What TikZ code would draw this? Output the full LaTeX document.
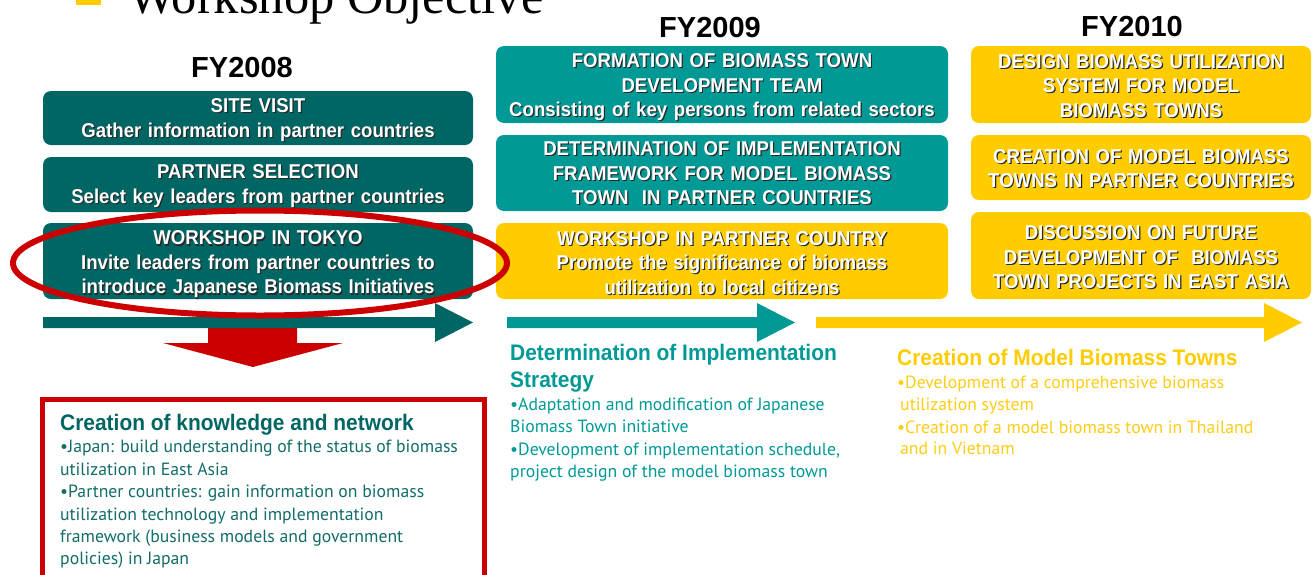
\documentclass[tikz,border=0pt]{standalone}
\usepackage{fontspec}
\setmainfont{Liberation Serif}
\newfontfamily\cb[FakeStretch=0.93]{Liberation Sans}
\newfontfamily\fyfont{Liberation Sans}
\newfontfamily\bodyfont{PT Sans}
\definecolor{dteal}{RGB}{0,102,99}
\definecolor{mteal}{RGB}{0,153,150}
\definecolor{yel}{RGB}{255,204,0}
\definecolor{lyel}{RGB}{255,204,20}
\definecolor{rred}{RGB}{204,0,0}
\definecolor{shad}{RGB}{40,40,40}
\definecolor{rbtext}{RGB}{18,108,104}
\newcommand\sh[1]{\leavevmode\rlap{\kern1.2pt\raisebox{-1.2pt}{\textcolor{shad}{#1}}}#1}
\begin{document}
\begin{tikzpicture}[x=1pt,y=-1pt,
  boxn/.style={rounded corners=8pt, inner sep=0pt},
  boxt/.style={inner sep=0pt, align=center, text=white,
    font=\cb\bfseries\fontsize{20}{24.5}\selectfont},
  fylab/.style={anchor=base, inner sep=0pt, font=\fyfont\bfseries\fontsize{29}{29}\selectfont},
  headtxt/.style={anchor=base west, inner sep=0pt, font=\cb\bfseries\fontsize{22.5}{22.5}\selectfont},
  bodytxt/.style={anchor=base west, inner sep=0pt, font=\bodyfont\fontsize{17.7}{17.7}\selectfont}]
\useasboundingbox (0,0) rectangle (1312,574);
% title
\fill[yel] (76,-20) rectangle (101,5);
\node[anchor=base west, inner sep=0pt, font=\fontsize{50.5}{50.5}\selectfont] (title) at (128,13) {Workshop Objective};
% year labels
\node[fylab] (fy8) at (242,77) {FY2008};
\node[fylab] (fy9) at (710,37) {FY2009};
\node[fylab] (fy10) at (1132,36) {FY2010};
% FY2008 boxes
\node[boxn, fill=dteal, minimum width=430pt, minimum height=54pt] (a1) at (258,118) {};
\node[boxt, text width=430pt] (a1t) at ([yshift=-2.5pt]a1.center)
  {\sh{SITE VISIT}\\\sh{Gather information in partner countries}};
\node[boxn, fill=dteal, minimum width=430pt, minimum height=55pt] (a2) at (258,184.5) {};
\node[boxt, text width=430pt] (a2t) at ([yshift=-2pt]a2.center)
  {\sh{PARTNER SELECTION}\\\sh{Select key leaders from partner countries}};
\node[boxn, fill=dteal, minimum width=430pt, minimum height=76pt] (a3) at (258,261) {};
\node[boxt, text width=430pt] (a3t) at ([yshift=-4pt]a3.center)
  {\sh{WORKSHOP IN TOKYO}\\\sh{Invite leaders from partner countries to}\\\sh{introduce Japanese Biomass Initiatives}};
% FY2009 boxes
\node[boxn, fill=mteal, minimum width=452pt, minimum height=77pt] (b1) at (722,84.5) {};
\node[boxt, text width=452pt] (b1t) at ([yshift=-3.5pt]b1.center)
  {\sh{FORMATION OF BIOMASS TOWN}\\\sh{DEVELOPMENT TEAM}\\\sh{Consisting of key persons from related sectors}};
\node[boxn, fill=mteal, minimum width=452pt, minimum height=76pt] (b2) at (722,173) {};
\node[boxt, text width=452pt] (b2t) at ([yshift=-1pt]b2.center)
  {\sh{DETERMINATION OF IMPLEMENTATION}\\\sh{FRAMEWORK FOR MODEL BIOMASS}\\\sh{TOWN\ \ IN PARTNER COUNTRIES}};
\node[boxn, fill=yel, minimum width=452pt, minimum height=76pt] (b3) at (722,261) {};
\node[boxt, text width=452pt] (b3t) at ([yshift=-2.5pt]b3.center)
  {\sh{WORKSHOP IN PARTNER COUNTRY}\\\sh{Promote the significance of biomass}\\\sh{utilization to local citizens}};
% FY2010 boxes
\node[boxn, fill=yel, minimum width=340pt, minimum height=77pt] (c1) at (1141,84.5) {};
\node[boxt, text width=340pt] (c1t) at ([yshift=-2pt]c1.center)
  {\sh{DESIGN BIOMASS UTILIZATION}\\\sh{SYSTEM FOR MODEL}\\\sh{BIOMASS TOWNS}};
\node[boxn, fill=yel, minimum width=340pt, minimum height=65pt] (c2) at (1141,167.5) {};
\node[boxt, text width=340pt] (c2t) at ([yshift=-1.5pt]c2.center)
  {\sh{CREATION OF MODEL BIOMASS}\\\sh{TOWNS IN PARTNER COUNTRIES}};
\node[boxn, fill=yel, minimum width=340pt, minimum height=87pt] (c3) at (1141,255.5) {};
\node[boxt, text width=340pt] (c3t) at ([yshift=-2.5pt]c3.center)
  {\sh{DISCUSSION ON FUTURE}\\\sh{DEVELOPMENT OF\ \ BIOMASS}\\\sh{TOWN PROJECTS IN EAST ASIA}};
% red down arrow
\fill[rred] (208,326) -- (297,326) -- (297,343) -- (343,343) -- (253,367) -- (163,343) -- (208,343) -- cycle;
% timeline arrows
\fill[dteal] (43,317) -- (435,317) -- (435,303) -- (473,322.5) -- (435,342) -- (435,328) -- (43,328) -- cycle;
\fill[mteal] (507,317) -- (757,317) -- (757,303) -- (795,322.5) -- (757,342) -- (757,328) -- (507,328) -- cycle;
\fill[yel] (816,317) -- (1264,317) -- (1264,303) -- (1302,322.5) -- (1264,342) -- (1264,328) -- (816,328) -- cycle;
% red ellipse
\draw[rred, line width=6pt] (260,263) ellipse [x radius=247, y radius=52.5];
% red box
\draw[rred, line width=5pt] (42.5,600) -- (42.5,399.5) -- (484.5,399.5) -- (484.5,600);
% red box text
\node[headtxt, text=dteal] (r0) at (60,430) {Creation of knowledge and network};
\node[bodytxt, text=rbtext] (r1) at (60,452.7) {•Japan: build understanding of the status of biomass};
\node[bodytxt, text=rbtext] (r2) at (60,475) {utilization in East Asia};
\node[bodytxt, text=rbtext] (r3) at (60,497) {•Partner countries: gain information on biomass};
\node[bodytxt, text=rbtext] (r4) at (60,520) {utilization technology and implementation};
\node[bodytxt, text=rbtext] (r5) at (60,542) {framework (business models and government};
\node[bodytxt, text=rbtext] (r6) at (60,564) {policies) in Japan};
% FY2009 text
\node[headtxt, text=mteal] (s0) at (510,360) {Determination of Implementation};
\node[headtxt, text=mteal] (s1) at (510,387) {Strategy};
\node[bodytxt, text=mteal] (s2) at (510,410) {•Adaptation and modification of Japanese};
\node[bodytxt, text=mteal] (s3) at (510,432) {Biomass Town initiative};
\node[bodytxt, text=mteal] (s4) at (510,455) {•Development of implementation schedule,};
\node[bodytxt, text=mteal] (s5) at (510,477) {project design of the model biomass town};
% FY2010 text
\node[headtxt, text=yel] (u0) at (897,365) {Creation of Model Biomass Towns};
\node[bodytxt, text=lyel] (u1) at (897,388) {•Development of a comprehensive biomass};
\node[bodytxt, text=lyel] (u2) at (900,410) {utilization system};
\node[bodytxt, text=lyel] (u3) at (897,433) {•Creation of a model biomass town in Thailand};
\node[bodytxt, text=lyel] (u4) at (900,454) {and in Vietnam};
\end{tikzpicture}
\end{document}
